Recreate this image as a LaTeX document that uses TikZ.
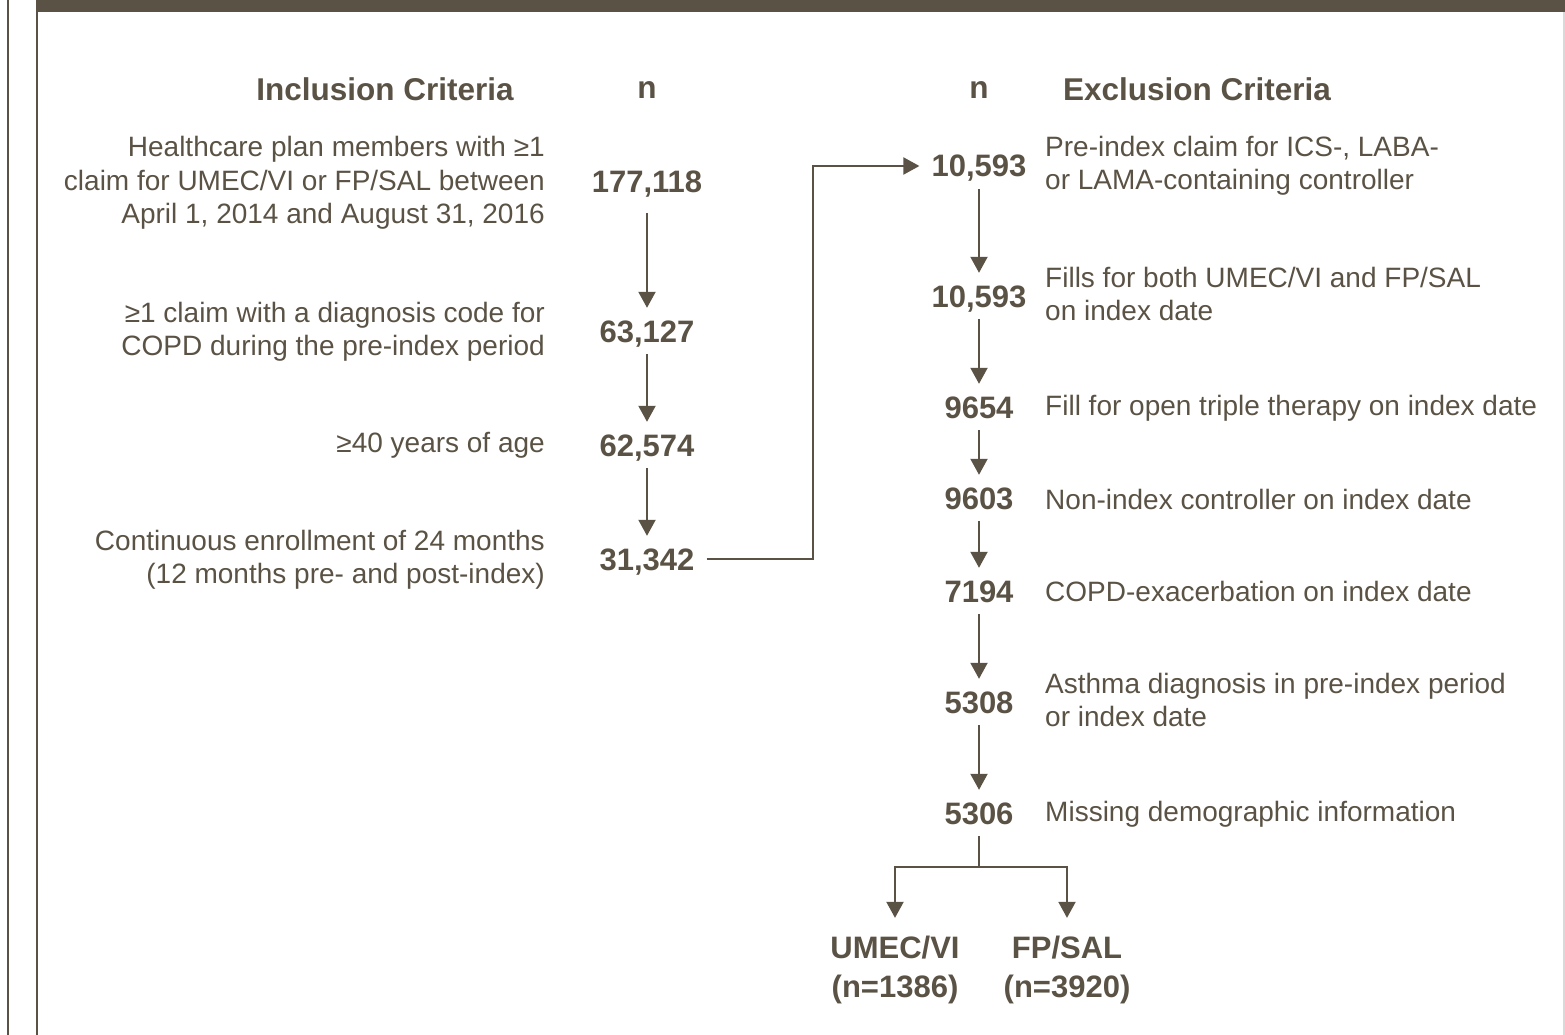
\documentclass[tikz,border=0pt]{standalone}
\usepackage{fontspec}
\setmainfont{Liberation Sans}
\usetikzlibrary{arrows.meta,positioning}
\definecolor{flowbrown}{RGB}{90,82,68}
\tikzset{
  crit/.style={font=\fontsize{28}{33.5}\selectfont, text=flowbrown, inner sep=0pt},
  head/.style={font=\fontsize{31.5}{36}\selectfont\bfseries, text=flowbrown},
  num/.style={font=\fontsize{31}{36}\selectfont\bfseries, text=flowbrown,
    text height=22pt, text depth=0pt, inner sep=12pt},
  outc/.style={font=\fontsize{31}{39}\selectfont\bfseries, text=flowbrown,
    align=center, inner xsep=0pt, inner ysep=18pt},
  link/.style={draw=flowbrown, line width=2pt},
  flow/.style={link, -{Triangle[width=17pt,length=16pt]}},
}
\begin{document}
\begin{tikzpicture}[x=1pt,y=-1pt]
  \useasboundingbox (0,0) rectangle (1565,1035);
  % frame
  \fill[flowbrown] (37,0) rectangle (1565,12);
  \draw[flowbrown, line width=2pt] (8,0) -- (8,1035);
  \draw[flowbrown, line width=2pt] (37,0) -- (37,1035);
  \draw[black!15, line width=1.5pt] (1564,12) -- (1564,1035);
  % headings
  \node[head] at (385,89) {Inclusion Criteria};
  \node[head] at (647,90) {n};
  \node[head] at (979,90) {n};
  \node[head] at (1197,89) {Exclusion Criteria};
  % inclusion
  \node[num] (inc1) at (647,182) {177,118};
  \node[num] (inc2) at (647,331) {63,127};
  \node[num] (inc3) at (647,445) {62,574};
  \node[num] (inc4) at (647,559) {31,342};
  \node[crit, anchor=east, align=right] at (545,183) {Healthcare plan members with ≥1\\claim for UMEC/VI or FP/SAL between\\April 1, 2014 and August 31, 2016};
  \node[crit, anchor=east, align=right] at (545,332) {≥1 claim with a diagnosis code for\\COPD during the pre-index period};
  \node[crit, anchor=east] at (545,445) {≥40 years of age};
  \node[crit, anchor=east, align=right] at (545,560) {Continuous enrollment of 24 months\\(12 months pre- and post-index)};
  % exclusion
  \node[num] (exc1) at (979,166) {10,593};
  \node[num] (exc2) at (979,296) {10,593};
  \node[num] (exc3) at (979,407) {9654};
  \node[num] (exc4) at (979,498) {9603};
  \node[num] (exc5) at (979,591) {7194};
  \node[num] (exc6) at (979,702) {5308};
  \node[num] (exc7) at (979,813) {5306};
  \node[crit, anchor=west, align=left] at (1045,166) {Pre-index claim for ICS-, LABA-\\or LAMA-containing controller};
  \node[crit, anchor=west, align=left] at (1045,294) {Fills for both UMEC/VI and FP/SAL\\on index date};
  \node[crit, anchor=west] at (1045,408) {Fill for open triple therapy on index date};
  \node[crit, anchor=west] at (1045,499) {Non-index controller on index date};
  \node[crit, anchor=west] at (1045,591) {COPD-exacerbation on index date};
  \node[crit, anchor=west, align=left] at (1045,700) {Asthma diagnosis in pre-index period\\or index date};
  \node[crit, anchor=west] at (1045,814) {Missing demographic information};
  % cohorts
  \node[outc] (umec) at (895,970) {UMEC/VI\\(n=1386)};
  \node[outc] (fpsal) at (1067,970) {FP/SAL\\(n=3920)};
  % arrows
  \draw[flow, shorten <=8pt] (inc1) -- (inc2);
  \foreach \i/\j in {2/3,3/4}
    \draw[flow] (inc\i) -- (inc\j);
  \foreach \i/\j in {1/2,2/3,3/4,4/5,5/6,6/7}
    \draw[flow] (exc\i) -- (exc\j);
  \coordinate (bend) at (813,0);
  \draw[flow] (inc4.east) -- (inc4.east -| bend) |- (exc1.west);
  \coordinate (split) at (979,867);
  \draw[link] (exc7) -- (split);
  \draw[flow] (split) -| (umec.north);
  \draw[flow] (split) -| (fpsal.north);
\end{tikzpicture}
\end{document}
